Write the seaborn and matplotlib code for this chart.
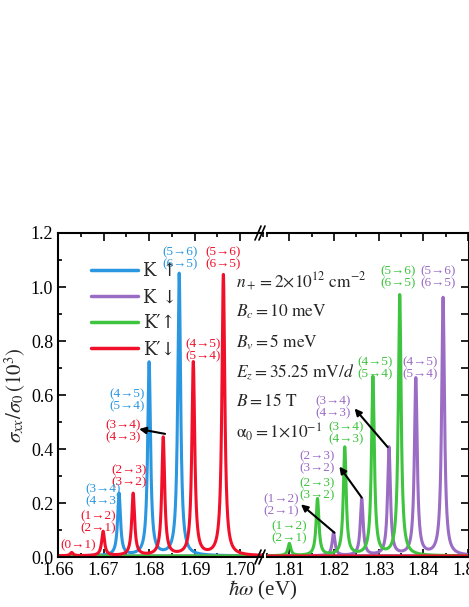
import numpy as np
import pandas as pd
import matplotlib
matplotlib.use("Agg")
import matplotlib.pyplot as plt
import seaborn as sns

sns.set_theme(style="ticks")
plt.rcParams["font.family"] = ["Liberation Serif", "DejaVu Serif"]
plt.rcParams["mathtext.fontset"] = "stix"

# peak centres (eV) and heights (10^3 sigma_0)
k_up_pos = [1.6734, 1.6800, 1.6866]
k_up_h = [0.23, 0.715, 1.045]
k_dn_pos = [1.8199, 1.8262, 1.8323, 1.8383, 1.8444]
k_dn_h = [0.085, 0.21, 0.40, 0.655, 0.955]
kp_up_pos = [1.8100, 1.8163, 1.8224, 1.8287, 1.8347]
kp_up_h = [0.045, 0.21, 0.40, 0.66, 0.965]
kp_dn_pos = [1.6630, 1.6699, 1.6765, 1.6831, 1.6897, 1.6963]
kp_dn_h = [0.012, 0.09, 0.23, 0.437, 0.715, 1.04]
width = 0.00038

series = [
    ("K ↑", "#2a97e0", k_up_pos, k_up_h),
    ("K ↓", "#9b6cc4", k_dn_pos, k_dn_h),
    ("K′↑", "#3ec43e", kp_up_pos, kp_up_h),
    ("K′↓", "#f0102a", kp_dn_pos, kp_dn_h),
]

energy = np.linspace(1.655, 1.855, 8000)
rows = []
for name, color, pos, h in series:
    y = np.zeros_like(energy) + 0.004
    for p, a in zip(pos, h):
        y += a * width**2 / ((energy - p) ** 2 + width**2)
    rows.append(pd.DataFrame({"E": energy, "s": y, "name": name}))
df = pd.concat(rows)
palette = {name: color for name, color, _, _ in series}

fig = plt.figure(figsize=(4.69, 6.07), dpi=100)
W, H = 469, 607
ax1 = fig.add_axes([58 / W, 50 / H, 205 / W, 324 / H])
ax2 = fig.add_axes([267 / W, 50 / H, 202 / W, 324 / H])

for ax, lim in [(ax1, (1.66, 1.705)), (ax2, (1.805, 1.8502))]:
    sub = df[(df.E >= lim[0] - 0.001) & (df.E <= lim[1] + 0.001)]
    sns.lineplot(data=sub, x="E", y="s", hue="name", palette=palette, ax=ax,
                 lw=2.2, legend=(ax is ax1), estimator=None, sort=False)
    ax.set_xlim(*lim)
    ax.set_ylim(0, 1.2)
    ax.set_xlabel("")
    ax.set_ylabel("")
    ax.tick_params(direction="in", which="both", top=True, length=6, width=1.2,
                   labelsize=13, colors="black")
    ax.tick_params(which="minor", length=3)
    for s in ax.spines.values():
        s.set_linewidth(1.5)
        s.set_color("black")

ax1.set_xticks([1.66, 1.67, 1.68, 1.69, 1.70])
ax1.set_xticklabels(["1.66", "1.67", "1.68", "1.69", "1.70"])
ax1.set_yticks(np.arange(0, 1.21, 0.2))
ax1.set_yticklabels([f"{v:.1f}" for v in np.arange(0, 1.21, 0.2)])
ax1.set_yticks(np.arange(0, 1.21, 0.1), minor=True)
ax1.set_xticks(np.arange(1.66, 1.705, 0.005), minor=True)
ax1.spines["right"].set_visible(False)
ax1.tick_params(right=False, which="both")

ax2.set_xticks([1.81, 1.82, 1.83, 1.84, 1.85])
ax2.set_xticklabels(["1.81", "1.82", "1.83", "1.84", "1.85"])
ax2.set_xticks(np.arange(1.805, 1.851, 0.005), minor=True)
ax2.set_yticks(np.arange(0, 1.21, 0.1))
ax2.spines["left"].set_visible(False)
ax2.tick_params(left=False, labelleft=False, right=True, which="both")

leg = ax1.legend(loc="upper left", bbox_to_anchor=(0.08, 0.96), frameon=False,
                 handlelength=2.6, labelspacing=0.45, handletextpad=0.3,
                 prop={"family": ["DejaVu Serif"], "size": 13})
for line in leg.get_lines():
    line.set_linewidth(2.5)

ax1.set_ylabel(r"$\sigma_{xx}/\sigma_0\,(10^3)$", fontsize=15, labelpad=2)
fig.text(263 / W, 1 - 590 / H, r"$\hbar\omega$ (eV)", ha="center", va="center",
         fontsize=15)

# axis-break marks
for yb in (50 / H, 374 / H):
    for dx in (-4, 0):
        fig.add_artist(plt.Line2D([(259 + dx) / W, (265 + dx) / W],
                                  [yb - 7 / H, yb + 7 / H], color="black", lw=1.2))

blue, purple, green, red = "#2a97e0", "#9b6cc4", "#3ec43e", "#f0102a"
labels_left = [
    (1.6868, 1.107, "(5→6)\n(6→5)", blue),
    (1.6963, 1.107, "(5→6)\n(6→5)", red),
    (1.6919, 0.767, "(4→5)\n(5→4)", red),
    (1.6752, 0.58, "(4→5)\n(5→4)", blue),
    (1.6743, 0.467, "(3→4)\n(4→3)", red),
    (1.6756, 0.30, "(2→3)\n(3→2)", red),
    (1.6699, 0.23, "(3→4)\n(4→3)", blue),
    (1.6688, 0.13, "(1→2)\n(2→1)", red),
    (1.6644, 0.045, "(0→1)", red),
]
labels_right = [
    (1.8343, 1.037, "(5→6)\n(6→5)", green),
    (1.8433, 1.037, "(5→6)\n(6→5)", purple),
    (1.8291, 0.70, "(4→5)\n(5→4)", green),
    (1.8392, 0.70, "(4→5)\n(5→4)", purple),
    (1.8197, 0.556, "(3→4)\n(4→3)", purple),
    (1.8228, 0.46, "(3→4)\n(4→3)", green),
    (1.8163, 0.35, "(2→3)\n(3→2)", purple),
    (1.8163, 0.25, "(2→3)\n(3→2)", green),
    (1.8082, 0.19, "(1→2)\n(2→1)", purple),
    (1.8100, 0.09, "(1→2)\n(2→1)", green),
]
for ax, labs in [(ax1, labels_left), (ax2, labels_right)]:
    for x, y, t, c in labs:
        ax.text(x, y, t, color=c, fontsize=9.5, ha="center", va="center",
                linespacing=1.0, family=["Liberation Serif", "DejaVu Sans"])

arrows = [
    (ax1, (1.6835, 0.456), (1.6778, 0.474)),
    (ax2, (1.8320, 0.407), (1.8246, 0.55)),
    (ax2, (1.8262, 0.22), (1.8212, 0.335)),
    (ax2, (1.8201, 0.09), (1.8126, 0.195)),
]
for ax, tail, head in arrows:
    ax.annotate("", xy=head, xytext=tail,
                arrowprops=dict(arrowstyle="-|>", color="black", lw=1.5,
                                mutation_scale=10, shrinkA=0, shrinkB=0))

params = [
    r"$n_+ = 2{\times}10^{12}\ \mathrm{cm}^{-2}$",
    r"$B_c = 10\ \mathrm{meV}$",
    r"$B_v = 5\ \mathrm{meV}$",
    r"$E_z = 35.25\ \mathrm{mV}/d$",
    r"$B = 15\ \mathrm{T}$",
    r"$\mathrm{\alpha}_0 = 1{\times}10^{-1}$",
]
for i, p in enumerate(params):
    fig.text(236 / W, 1 - (282 + 30 * i) / H, p, fontsize=12.5, va="center")

fig.savefig("out.png", dpi=100)
